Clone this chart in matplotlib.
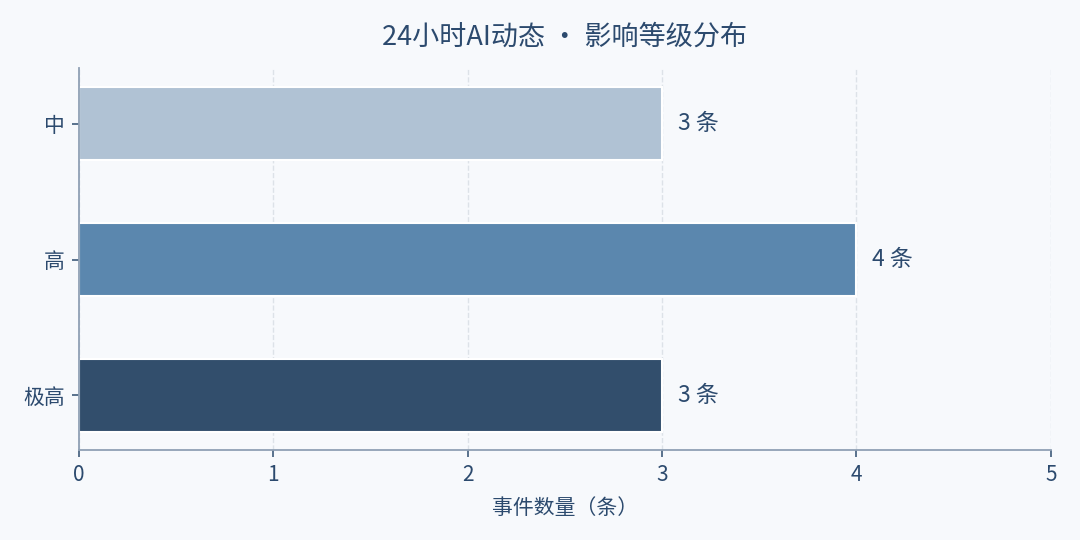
import matplotlib
matplotlib.use('Agg')
import matplotlib.pyplot as plt

plt.rcParams['font.family'] = ['Noto Sans CJK SC', 'DejaVu Sans']

levels = ['极高', '高', '中']
counts = [3, 4, 3]
colors = ['#324e6c', '#5b87ae', '#b0c2d4']

text_color = '#2c4a6e'
bg = '#f7f9fc'

fig, ax = plt.subplots(figsize=(10.8, 5.4), dpi=100)
fig.patch.set_facecolor(bg)
ax.set_facecolor(bg)

bars = ax.barh(levels, counts, height=0.54, color=colors, edgecolor='white', linewidth=1.5, zorder=3)

for bar, c in zip(bars, counts):
    ax.text(bar.get_width() + 0.08, bar.get_y() + bar.get_height() / 2, f'{c} 条',
            va='center', ha='left', fontsize=16.5, color=text_color)

ax.set_xlim(0, 5)
ax.set_ylim(-0.4, 2.41)
ax.set_xticks(range(6))
ax.set_xlabel('事件数量（条）', fontsize=15, color=text_color, labelpad=8)
ax.set_title('24小时AI动态 · 影响等级分布', fontsize=19.5, color=text_color, pad=17)

ax.grid(axis='x', linestyle='--', color='#dde2e8', linewidth=1, zorder=0)
ax.set_axisbelow(True)

for s in ['top', 'right']:
    ax.spines[s].set_visible(False)
for s in ['left', 'bottom']:
    ax.spines[s].set_color('#8fa0b4')
    ax.spines[s].set_linewidth(1.3)
    ax.spines[s].set_zorder(5)

ax.tick_params(colors=text_color, labelsize=15, length=5, width=1.2, pad=5)
ax.tick_params(axis='both', color='#3e5a7a')

plt.subplots_adjust(left=0.073, right=0.973, top=0.874, bottom=0.167)
plt.savefig('out.png', dpi=100, facecolor=bg)
